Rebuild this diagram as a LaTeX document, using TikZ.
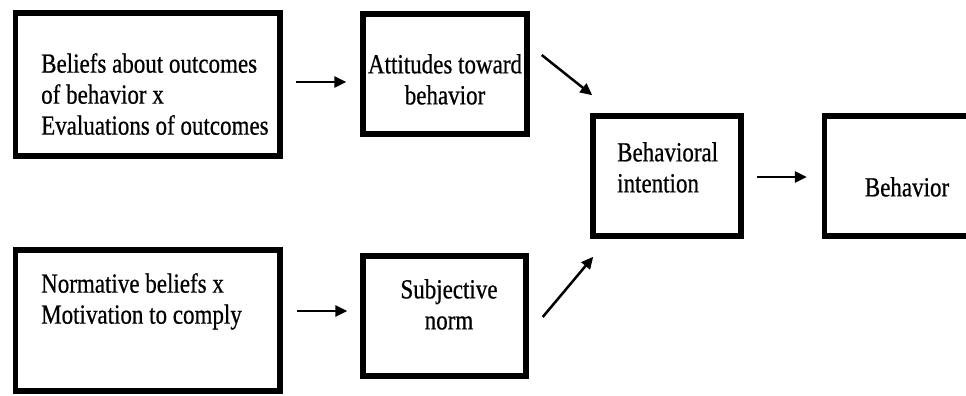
\documentclass[tikz,border=0pt]{standalone}
\usepackage{fontspec}
\setmainfont{Liberation Serif}[FakeBold=0.7]
\usepackage{graphicx}
\usetikzlibrary{arrows.meta}
\newcommand{\tline}[1]{\scalebox{1}[1.2]{#1}}

\begin{document}
\begin{tikzpicture}[x=1pt, y=-1pt,
	stage/.style={draw, line width=5.5pt, inner sep=0pt},
	txt/.style={inner sep=0pt, font=\fontsize{23}{31}\selectfont},
	arr/.style={line width=2.5pt, -{Triangle[length=12pt,width=11pt]}}]
	\useasboundingbox (0,0) rectangle (966,396);
	\clip (0,0) rectangle (966,396);
	% boxes
	\node[stage, minimum width=264.5pt, minimum height=143pt] (beliefs) at (147.75,84.5) {};
	\node[stage, minimum width=164pt, minimum height=120pt] (attitude) at (445,74) {};
	\node[stage, minimum width=264.5pt, minimum height=141pt] (normative) at (147.75,320.5) {};
	\node[stage, minimum width=163pt, minimum height=120pt] (subjnorm) at (444.5,316) {};
	\node[stage, minimum width=148pt, minimum height=120pt] (intention) at (667,176) {};
	\node[stage, minimum width=166pt, minimum height=120pt] (behavior) at (907.5,176) {};
	% texts
	\node[txt, anchor=north west, align=left] (tbeliefs) at (41,53) {\tline{Beliefs about outcomes}\\ \tline{of behavior x}\\ \tline{Evaluations of outcomes}};
	\node[txt, anchor=north, align=center] (tattitude) at (445,54) {\tline{Attitudes toward}\\ \tline{behavior}};
	\node[txt, anchor=north west, align=left] (tnormative) at (41,273) {\tline{Normative beliefs x}\\ \tline{Motivation to comply}};
	\node[txt, anchor=north, align=center] (tsubjnorm) at (449,279) {\tline{Subjective}\\ \tline{norm}};
	\node[txt, anchor=north west, align=left] (tintention) at (617,142) {\tline{Behavioral}\\ \tline{intention}};
	\node[txt, anchor=north] (tbehavior) at (907,177) {\tline{Behavior}};
	% arrows
	\draw[arr, shorten <=13pt, shorten >=14pt] (beliefs.east |- 0,82) -- (attitude.west |- 0,82);
	\draw[arr, shorten <=14pt, shorten >=13pt] (normative.east |- 0,311) -- (subjnorm.west |- 0,311);
	\draw[arr] ([shift={(12,-19)}]attitude.east) -- ([shift={(2,-18)}]intention.north west);
	\draw[arr] ([shift={(14,1)}]subjnorm.east) -- ([shift={(3,18)}]intention.south west);
	\draw[arr, shorten <=13pt, shorten >=15pt] (intention.east |- 0,177) -- (behavior.west |- 0,177);
\end{tikzpicture}
\end{document}
